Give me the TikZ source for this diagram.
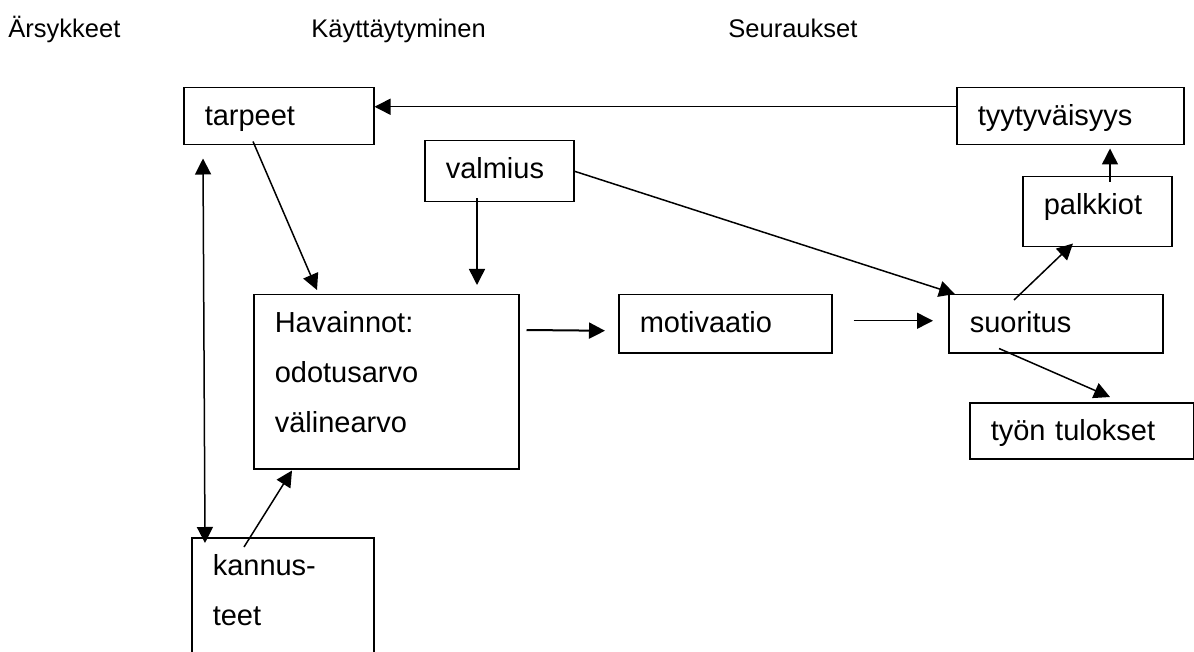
\documentclass[tikz,border=0pt]{standalone}
\usepackage{fontspec}
\setmainfont{Liberation Sans}
\usetikzlibrary{arrows.meta}

\tikzset{
        box/.style={draw, line width=0.75pt, anchor=north west, inner xsep=10.5pt, inner ysep=0pt,
                text height=19pt, align=left, font=\fontsize{14.5}{25}\selectfont},
        head/.style={anchor=base west, inner sep=0pt, font=\fontsize{12.75}{15}\selectfont},
        arr/.style={line width=0.75pt, -{Triangle[length=8pt,width=8pt]}}
}

\begin{document}
\begin{tikzpicture}[x=0.5pt, y=-0.5pt]
        \useasboundingbox (0,0) rectangle (1194,652);

        \node[head] (A1) at (8,38) {Ärsykkeet};
        \node[head] (A2) at (311,38) {Käyttäytyminen};
        \node[head] (A3) at (728,38) {Seuraukset};

        \node[box, text width=74pt, text depth=9.5pt] (T) at (183,87) {tarpeet};
        \node[box, text width=53.5pt, text depth=11.5pt] (V) at (424,140) {valmius};
        \node[box, text width=111.5pt, text depth=68pt] (H) at (253,294) {Havainnot:\\odotusarvo\\välinearvo};
        \node[box, text width=70pt, text depth=46pt] (K) at (191,537) {kannus-\\teet};
        \node[box, text width=85.5pt, text depth=10pt] (M) at (618,294) {motivaatio};
        \node[box, text width=86pt, text depth=10pt] (S) at (948,294) {suoritus};
        \node[box, text width=92.5pt, text depth=9.5pt] (Ty) at (956,87) {tyytyväisyys};
        \node[box, text width=53.5pt, text depth=16pt] (P) at (1022,176) {palkkiot};
        \node[box, text width=91pt, text depth=9pt] (TT) at (969,402) {työn tulokset};

        \draw[arr] ([shift={(0,-9.5)}]Ty.west) -- ([shift={(0,-9.5)}]T.east);
        \draw[arr] ([shift={(70,-4)}]T.south west) -- ([shift={(64,-4)}]H.north west);
        \draw[arr] ([shift={(53,-4)}]V.south west) -- ([shift={(224,-9)}]H.north west);
        \draw[arr] (V.east) -- ([shift={(7,0)}]S.north west);
        \draw[arr, line width=1pt] ([shift={(7,36)}]H.north east) -- ([shift={(-13,7)}]M.west);
        \draw[arr] ([shift={(21,-3)}]M.east) -- ([shift={(-15,-3)}]S.west);
        \draw[arr] ([shift={(66,6)}]S.north west) -- ([shift={(51,-4)}]P.south west);
        \draw[arr] ([shift={(88,6)}]P.north west) -- ([shift={(154,3)}]Ty.south west);
        \draw[arr] ([shift={(51,-5)}]S.south west) -- ([shift={(141,-5)}]TT.north west);
        \draw[arr, {Triangle[length=8pt,width=8pt]}-{Triangle[length=8pt,width=8pt]}] ([shift={(20,13)}]T.south west) -- ([shift={(14,6)}]K.north west);
        \draw[arr] ([shift={(53,10)}]K.north west) -- ([shift={(39,1)}]H.south west);
\end{tikzpicture}
\end{document}
